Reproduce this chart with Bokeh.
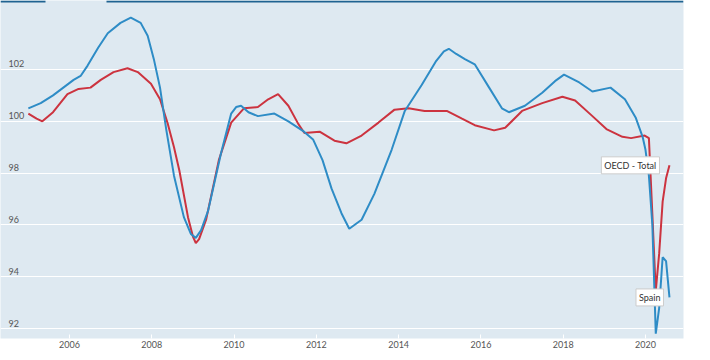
from bokeh.plotting import figure
from bokeh.models import FixedTicker, Label, BoxAnnotation, Range1d, ColumnDataSource
from bokeh.core.properties import value
from bokeh.embed import file_html
from bokeh.resources import INLINE

# ---- data (decimal years) ----
spain_dates = [2005.0, 2005.3, 2005.6, 2005.85, 2006.1, 2006.27, 2006.44, 2006.7, 2006.93, 2007.24, 2007.49, 2007.73,
               2007.9, 2008.05, 2008.2, 2008.35, 2008.54, 2008.78, 2008.95, 2009.07, 2009.2, 2009.37, 2009.68, 2009.93,
               2010.05, 2010.17, 2010.35, 2010.58, 2010.98, 2011.32, 2011.7, 2011.92, 2012.15, 2012.37, 2012.61,
               2012.8, 2013.1, 2013.41, 2013.83, 2014.15, 2014.56, 2014.9, 2015.1, 2015.22, 2015.4, 2015.61,
               2015.85, 2016.2, 2016.51, 2016.68, 2017.07, 2017.49, 2017.8, 2018.02, 2018.39, 2018.71,
               2019.15, 2019.5, 2019.76, 2019.93, 2020.0, 2020.083, 2020.167, 2020.25, 2020.333,
               2020.417, 2020.5, 2020.583]
spain_values = [100.5, 100.7, 101.0, 101.3, 101.6, 101.75, 102.15, 102.85, 103.4, 103.8, 104.0, 103.8,
                103.3, 102.4, 101.3, 99.7, 97.9, 96.3, 95.65, 95.5, 95.8, 96.55, 98.75, 100.3,
                100.55, 100.6, 100.35, 100.2, 100.3, 100.0, 99.6, 99.3, 98.5, 97.4, 96.45,
                95.85, 96.2, 97.2, 98.9, 100.4, 101.4, 102.3, 102.7, 102.8, 102.6, 102.4,
                102.2, 101.3, 100.5, 100.35, 100.6, 101.1, 101.55, 101.8, 101.5, 101.15,
                101.3, 100.85, 100.15, 99.4, 98.9, 97.9, 96.0, 91.8, 92.8,
                94.75, 94.6, 93.2]

oecd_dates = [2005.0, 2005.2, 2005.34, 2005.6, 2005.95, 2006.22, 2006.51, 2006.76, 2007.07, 2007.41,
              2007.66, 2007.98, 2008.2, 2008.39, 2008.54, 2008.67, 2008.88, 2009.0, 2009.07, 2009.15, 2009.32,
              2009.63, 2009.93, 2010.24, 2010.58, 2010.83, 2011.07, 2011.32, 2011.56, 2011.71,
              2012.08, 2012.44, 2012.73, 2013.1, 2013.51, 2013.9, 2014.24, 2014.63, 2015.17,
              2015.54, 2015.85, 2016.32, 2016.59, 2017.0, 2017.49, 2017.98, 2018.29, 2018.71,
              2019.05, 2019.44, 2019.65, 2019.98, 2020.083, 2020.167, 2020.25, 2020.333,
              2020.417, 2020.5, 2020.583]
oecd_values = [100.3, 100.1, 100.0, 100.35, 101.05, 101.25, 101.3, 101.6, 101.9, 102.05,
               101.9, 101.45, 100.85, 99.9, 99.0, 98.1, 96.3, 95.55, 95.3, 95.45, 96.2,
               98.5, 99.95, 100.5, 100.55, 100.85, 101.05, 100.6, 99.9, 99.55,
               99.6, 99.25, 99.15, 99.45, 99.95, 100.45, 100.5, 100.4, 100.4,
               100.1, 99.85, 99.65, 99.75, 100.4, 100.7, 100.95, 100.8, 100.2,
               99.7, 99.4, 99.35, 99.45, 99.35, 96.4, 93.45, 94.9,
               96.9, 97.8, 98.3]

x_ticks = [2006, 2008, 2010, 2012, 2014, 2016, 2018, 2020]
y_ticks = [92, 94, 96, 98, 100, 102]
y_tick_labels = ["92", "94", "96", "98", "100", "102"]
series_names = ["Spain", "OECD - Total"]

# ---- style ----
BG = "#dee9f1"
BLUE = "#2e8cc6"
RED = "#cc333f"
FONT = "Lato"
FRAME_W, FRAME_H = 683, 338
X0, X1 = 2004.323, 2020.924
Y0, Y1 = 91.614, 104.664

p = figure(width=FRAME_W + 14, height=FRAME_H + 14, output_backend="svg", toolbar_location=None,
           x_range=Range1d(X0, X1), y_range=Range1d(Y0, Y1),
           min_border_left=0, min_border_right=14, min_border_top=0, min_border_bottom=14)
p.background_fill_color = BG
p.border_fill_color = "white"
p.outline_line_color = None

p.yaxis.visible = False
p.ygrid.ticker = FixedTicker(ticks=y_ticks)
p.ygrid.grid_line_color = "white"
p.ygrid.grid_line_width = 1
p.xgrid.grid_line_color = None

xa = p.xaxis[0]
xa.ticker = FixedTicker(ticks=x_ticks)
xa.axis_line_color = None
xa.major_tick_in = 4
xa.major_tick_out = 0
xa.major_tick_line_color = "white"
xa.minor_tick_line_color = None
xa.major_label_standoff = 2
xa.major_label_text_font = FONT
xa.major_label_text_font_size = "9px"
xa.major_label_text_color = "#555555"

# y tick labels inside the plot
ysrc = ColumnDataSource(dict(x=[X0] * len(y_ticks), y=y_ticks, t=y_tick_labels))
p.text(x="x", y="y", text="t", source=ysrc, x_offset=8, y_offset=-2,
       text_align="left", text_baseline="bottom", text_font=value(FONT),
       text_font_size="9px", text_color="#555555")

# top tab line
px_x = (X1 - X0) / FRAME_W
px_y = (Y1 - Y0) / FRAME_H
for l, r in [(X0, X0 + 45 * px_x), (X0 + 106 * px_x, X1)]:
    p.add_layout(BoxAnnotation(left=l, right=r, top=Y1, bottom=Y1 - 2 * px_y,
                               fill_color="#1f6391", fill_alpha=1, line_color=None))

p.line(oecd_dates, oecd_values, line_color=RED, line_width=2)
p.line(spain_dates, spain_values, line_color=BLUE, line_width=2)

for name, xs, ys, off in [("OECD - Total", oecd_dates, oecd_values, -10),
                          ("Spain", spain_dates, spain_values, -6)]:
    p.add_layout(Label(x=xs[-1], y=ys[-1], text=name, x_offset=off, text_align="right",
                       text_baseline="middle", text_font=FONT, text_font_size="9px",
                       text_color="#333333", background_fill_color="white",
                       border_line_color="#cccccc", padding=3))

open("out.html", "w").write(file_html(p, INLINE))
